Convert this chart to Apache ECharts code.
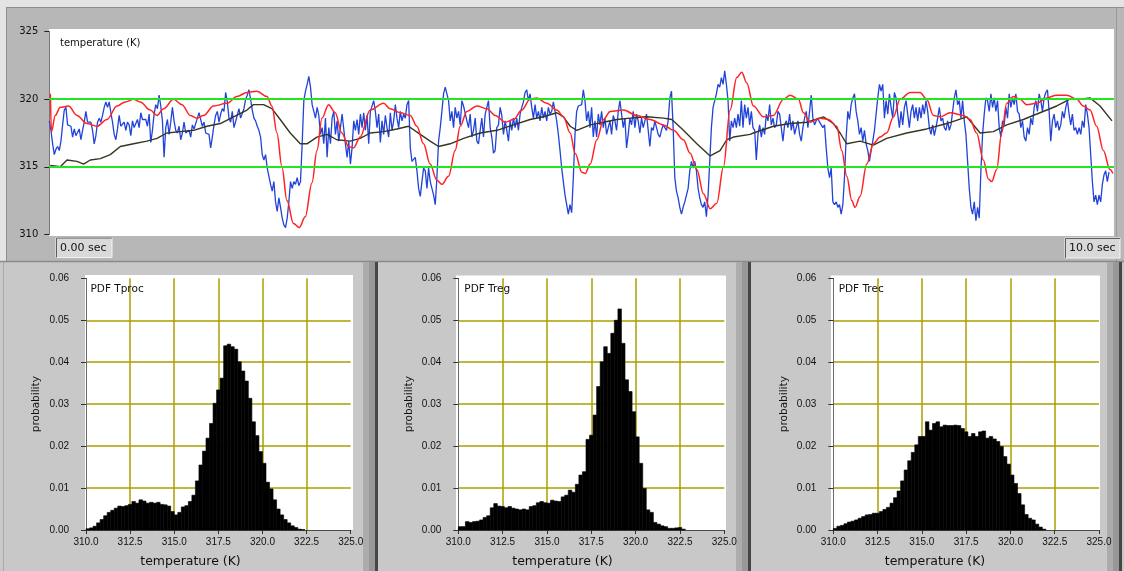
<!DOCTYPE html>
<html>
<head>
<meta charset="utf-8">
<script src="https://cdn.jsdelivr.net/npm/echarts@6/dist/echarts.min.js"></script>
<style>
  html, body { margin: 0; padding: 0; background: #c8c8c8; }
  #chart { width: 1124px; height: 571px; }
</style>
</head>
<body>
<div id="chart"></div>
<script>
// ---- time axis of the strip chart (seconds) ----
const timeStart = 0;
const timeEnd = 10;
const tempTicks = [310, 325, 5];          // min, max, step (K)
const limitLevels = [315, 320];           // green band limits (K)

// Tproc: sampled waveform, one value every tprocDt seconds
const tprocDt = 1 / 64;
const tproc = [
  318.4, 317.7, 316.7, 315.9, 316.3, 316.5, 316.2, 316.9, 318.1, 319.2,
  319.4, 318.1, 318.1, 318.0, 317.2, 317.8, 317.3, 317.4, 317.8, 317.0,
  317.7, 318.3, 319.1, 318.3, 318.4, 318.3, 317.7, 316.7, 317.3, 318.3,
  318.6, 318.3, 318.8, 319.4, 319.8, 319.4, 319.8, 319.0, 318.3, 317.4,
  317.0, 317.8, 318.8, 318.0, 318.1, 318.3, 317.7, 318.3, 318.1, 317.3,
  318.4, 317.9, 317.9, 318.5, 317.9, 319.0, 318.5, 318.6, 318.5, 318.0,
  318.9, 316.8, 317.7, 318.9, 319.6, 319.3, 320.3, 319.5, 318.4, 315.7,
  317.9, 318.5, 317.4, 318.3, 319.4, 318.4, 317.7, 317.5, 318.0, 317.0,
  317.5, 318.3, 317.5, 317.5, 317.7, 317.2, 318.1, 317.8, 317.8, 318.6,
  319.0, 318.5, 318.0, 318.3, 317.5, 317.4, 317.4, 316.4, 317.2, 318.1,
  318.8, 319.1, 318.3, 318.9, 319.3, 319.1, 320.5, 319.8, 318.6, 318.3,
  319.1, 317.9, 318.0, 318.8, 319.3, 318.6, 318.6, 319.3, 320.0, 320.3,
  320.7, 320.0, 319.2, 318.6,
  318.4, 318.0, 317.7, 317.2, 315.9, 315.5, 315.9, 314.9, 314.3, 313.7,
  313.2, 313.9, 312.4, 311.7, 312.7, 312.0, 311.2, 310.7, 310.5, 311.2,
  312.4, 313.9, 313.4, 313.9, 313.7, 314.2, 313.6, 313.9, 316.7, 319.9,
  320.6, 321.1, 321.7, 320.9, 319.6, 319.1, 318.6, 319.4, 318.8, 317.4,
  317.9, 316.7, 318.6, 315.7, 317.9, 316.7, 318.6, 319.1, 317.4, 318.4,
  316.9, 317.9, 318.9, 317.8, 316.7, 315.7, 316.9, 315.2, 316.4, 318.4,
  317.7, 318.5, 317.4, 318.9, 317.9, 319.0, 317.7, 318.8, 316.7, 319.1,
  319.1, 319.9, 319.1, 317.9, 318.9, 316.8, 318.4, 317.4, 318.8, 317.9,
  317.2, 319.0, 317.7, 318.4, 319.6, 318.6, 317.9, 319.1, 318.4, 318.9,
  318.6, 319.6, 319.9, 316.4, 315.4, 315.5, 315.7, 314.7, 313.4, 312.8,
  313.9, 314.9, 314.7, 313.4, 314.9, 313.9, 313.4, 312.9, 312.2, 314.2,
  316.9, 317.9, 319.1, 320.4, 320.9, 320.4, 319.9, 318.4, 319.1, 317.9,
  319.4, 318.6, 319.1, 318.1, 319.9, 319.5,
  319.4, 318.4, 317.9, 318.9, 317.2, 317.7, 318.6, 316.9, 316.7, 317.7,
  318.6, 317.2, 318.9, 319.4, 319.9, 317.9, 317.2, 316.0, 316.2, 317.9,
  318.1, 319.4, 318.8, 317.4, 318.4, 317.7, 316.9, 318.4, 317.7, 318.6,
  317.9, 318.6, 317.7, 318.9, 319.4, 319.8, 320.5, 320.7, 319.9, 320.4,
  319.4, 318.6, 319.6, 318.6, 319.1, 318.4, 319.4, 318.6, 319.1, 318.4,
  319.4, 318.9, 319.1, 319.8, 319.1, 318.4, 317.4, 316.2, 314.9, 313.9,
  312.9, 312.2, 311.5, 312.2, 311.6, 314.2, 317.4, 319.1, 319.5, 319.6,
  319.6, 320.7, 319.9, 318.4, 319.1, 317.9, 319.4, 317.2, 318.4, 317.2,
  318.9, 318.1, 319.1, 317.9, 318.6, 317.4, 317.9, 318.4, 317.4, 318.8,
  318.4, 317.7, 319.1, 319.9, 318.9, 317.9, 318.6, 316.4, 317.4, 318.6,
  318.1, 319.1, 317.9, 318.9, 318.4, 317.5, 318.6, 317.9, 318.4, 318.9,
  317.7, 316.5, 317.9, 317.7, 318.4, 317.9, 317.4, 317.2, 317.7, 318.1,
  317.9, 317.7, 318.4, 320.1, 320.6, 317.9,
  314.2, 313.2, 312.7, 312.0, 311.5, 312.0, 312.4, 312.9, 313.4, 314.7,
  315.4, 314.9, 315.4, 314.7, 313.4, 312.7, 312.2, 312.0, 312.4, 311.3,
  312.9, 315.4, 317.9, 319.4, 319.9, 320.4, 321.1, 320.9, 321.6, 321.1,
  322.1, 321.1, 319.9, 316.9, 318.4, 317.9, 318.6, 317.9, 318.9, 318.0,
  319.9, 317.9, 319.6, 318.6, 319.4, 318.1, 319.1, 317.9, 317.7, 315.5,
  317.4, 318.1, 317.2, 317.9, 317.4, 318.9, 318.4, 319.6, 318.1, 318.6,
  317.9, 318.1, 319.1, 318.9, 317.9, 316.9, 318.1, 318.4, 317.9, 318.9,
  317.7, 318.4, 317.4, 317.9, 318.4, 317.4, 316.9, 317.9, 318.6, 319.1,
  317.9, 319.1, 320.3, 318.6, 318.1, 318.4, 318.6, 318.3, 318.4, 317.9,
  318.1, 316.4, 314.9, 314.2, 314.9, 312.4, 312.2, 312.4, 312.0, 312.2,
  311.5, 312.2, 314.2, 317.2, 319.1, 318.5, 319.6, 320.1, 320.4, 319.1,
  318.4, 317.4, 317.9, 316.9, 317.7, 316.7, 316.2, 315.4, 316.2, 316.9,
  317.7, 318.9, 320.1, 321.1, 320.6, 321.1,
  318.6, 319.9, 318.9, 320.4, 319.4, 318.6, 320.5, 320.1, 318.9, 317.9,
  319.1, 318.1, 319.4, 319.9, 318.9, 317.9, 319.1, 319.6, 318.6, 319.4,
  318.4, 319.4, 318.6, 319.6, 318.9, 319.9, 319.1, 317.9, 317.4, 318.1,
  317.3, 317.9, 318.6, 319.4, 318.4, 318.6, 317.9, 317.7, 318.4, 317.7,
  318.1, 319.1, 320.1, 320.7, 319.6, 319.9, 318.6, 319.9, 318.4, 317.4,
  315.4, 313.4, 312.0, 311.5, 312.4, 311.0, 312.0, 311.2, 314.7, 317.4,
  318.9, 320.1, 319.9, 319.1, 320.4, 319.4, 320.1, 319.1, 319.9, 317.9,
  317.2, 318.4, 318.1, 319.4, 318.6, 320.4, 319.4, 320.1, 319.6, 320.4,
  319.1, 318.9, 317.9, 318.4, 317.2, 316.9, 317.9, 317.4, 318.6, 318.1,
  319.4, 319.9, 319.1, 320.4, 319.9, 319.1, 320.1, 320.5, 320.7, 319.1,
  316.9, 318.4, 318.9, 317.9, 318.4, 317.7, 318.1, 319.1, 318.6, 319.4,
  319.9, 318.9, 318.1, 318.9, 317.7, 317.9, 317.4, 317.9, 317.4, 318.4,
  317.9, 319.6, 318.9, 317.9, 315.9, 313.9, 312.4, 312.9, 312.2, 312.9,
  312.4, 313.7, 314.4, 314.7, 313.9, 314.6
];

// Treg: [time s, temperature K]
const treg = [
  [0.01,320.4],[0.02,317.6],[0.056,318.8],[0.103,319.4],[0.181,319.5],[0.26,318.8],
  [0.354,318.2],[0.448,318.0],[0.542,318.5],[0.636,319.5],[0.714,319.8],[0.792,320.0],
  [0.854,319.8],[0.948,319.2],[1.011,318.8],[1.073,319.3],[1.167,320.0],[1.246,319.6],
  [1.324,318.8],[1.387,318.6],[1.449,318.8],[1.543,319.5],[1.668,319.7],[1.762,320.2],
  [1.856,320.5],[1.95,320.6],[2.044,320.2],[2.091,319.5],[2.138,317.5],[2.185,315.0],
  [2.232,312.5],[2.294,310.8],[2.347,310.5],[2.404,311.3],[2.467,313.8],[2.514,316.2],
  [2.561,318.6],[2.623,319.6],[2.685,319.0],[2.748,317.5],[2.81,316.5],[2.857,316.4],
  [2.92,317.2],[3.014,319.2],[3.139,319.7],[3.2,319.3],[3.296,319.0],[3.39,318.8],
  [3.452,318.0],[3.515,316.7],[3.577,315.2],[3.64,314.0],[3.687,313.7],[3.75,314.3],
  [3.812,316.2],[3.859,318.0],[3.922,319.1],[4.016,319.5],[4.11,319.3],[4.188,318.8],
  [4.282,318.3],[4.36,318.5],[4.438,319.2],[4.516,320.0],[4.579,320.1],[4.673,319.7],
  [4.767,319.2],[4.829,318.7],[4.892,317.5],[4.939,316.0],[5.002,314.6],[5.033,314.5],
  [5.08,315.2],[5.143,317.0],[5.205,318.5],[5.268,319.1],[5.393,319.2],[5.518,318.8],
  [5.643,318.5],[5.768,318.1],[5.862,317.7],[5.956,317.0],[6.019,316.0],[6.082,314.8],
  [6.144,313.0],[6.207,311.9],[6.269,312.3],[6.332,315.0],[6.394,319.2],[6.457,321.6],
  [6.504,322.0],[6.551,321.2],[6.613,319.5],[6.707,318.7],[6.801,318.8],[6.895,320.0],
  [6.958,320.3],[7.036,320.0],[7.083,319.0],[7.146,318.3],[7.239,318.6],[7.318,318.5],
  [7.396,318.0],[7.443,316.2],[7.49,314.3],[7.537,312.5],[7.568,312.0],[7.615,312.8],
  [7.678,315.2],[7.74,316.7],[7.803,317.2],[7.865,317.5],[7.928,318.7],[7.991,320.0],
  [8.085,320.5],[8.178,320.5],[8.241,320.0],[8.304,318.8],[8.366,318.7],[8.46,319.0],
  [8.585,318.8],[8.648,318.5],[8.71,317.5],[8.773,315.5],[8.82,314.1],[8.851,313.9],
  [8.898,314.8],[8.945,317.5],[8.992,319.7],[9.055,320.2],[9.117,320.0],[9.18,319.6],
  [9.274,319.7],[9.368,320.1],[9.462,320.3],[9.556,320.3],[9.65,320.0],[9.712,319.5],
  [9.775,319.2],[9.837,318.0],[9.9,316.2],[9.962,314.8],[9.99,314.5]
];

// Trec: [time s, temperature K]
const trec = [
  [0.01,315.1],[0.103,315.0],[0.166,315.5],[0.26,315.4],[0.322,315.2],[0.385,315.5],
  [0.479,315.6],[0.573,315.9],[0.667,316.5],[0.792,316.7],[0.917,316.9],[1.011,317.1],
  [1.105,317.5],[1.23,317.6],[1.355,317.7],[1.481,318.0],[1.606,318.2],[1.731,318.7],
  [1.856,319.2],[1.918,319.6],[2.012,319.6],[2.091,319.3],[2.169,318.5],[2.263,317.5],
  [2.357,316.7],[2.42,316.7],[2.514,317.2],[2.608,317.4],[2.701,317.0],[2.826,316.9],
  [2.92,317.1],[3.014,317.5],[3.139,317.6],[3.265,317.8],[3.374,318.0],[3.484,317.4],
  [3.577,316.9],[3.656,316.5],[3.765,316.7],[3.891,317.1],[4.047,317.5],[4.204,317.7],
  [4.36,318.1],[4.516,318.5],[4.641,318.7],[4.767,319.0],[4.829,318.7],[4.892,318.0],
  [4.955,317.7],[5.08,318.1],[5.205,318.3],[5.33,318.5],[5.455,318.6],[5.612,318.7],
  [5.768,318.6],[5.847,318.5],[5.956,317.7],[6.082,316.7],[6.207,315.8],[6.3,316.2],
  [6.363,317.0],[6.426,317.2],[6.582,317.4],[6.613,317.5],[6.801,318.0],[6.958,318.2],
  [7.115,318.3],[7.271,318.7],[7.365,318.2],[7.427,317.5],[7.49,316.7],[7.615,316.9],
  [7.74,316.6],[7.865,317.1],[8.053,317.5],[8.241,317.8],[8.429,318.2],[8.617,318.7],
  [8.742,317.5],[8.867,317.6],[8.992,318.1],[9.148,318.5],[9.305,319.0],[9.462,319.5],
  [9.587,320.0],[9.681,320.0],[9.775,320.1],[9.869,319.5],[9.981,318.4]
];

// ---- probability density histograms: bins of binWidth K starting at binStart ----
const binStart = 310;
const binWidth = 0.2;
const pdfTicksX = [310, 325, 2.5];
const pdfTicksY = [0, 0.06, 0.01];

const pdfTproc = [
  0.0003, 0.0005, 0.0009, 0.0017, 0.0025, 0.0034, 0.0042, 0.0047, 0.0052, 0.0057,
  0.0056, 0.0058, 0.0061, 0.0068, 0.0064, 0.0072, 0.0069, 0.0064, 0.0066, 0.0064,
  0.0066, 0.0061, 0.0060, 0.0057, 0.0044, 0.0036, 0.0042, 0.0055, 0.0058, 0.0068,
  0.0083, 0.0117, 0.0155, 0.0188, 0.0219, 0.0254, 0.0302, 0.0334, 0.0362, 0.0439,
  0.0443, 0.0437, 0.0431, 0.0401, 0.0379, 0.0355, 0.0314, 0.0258, 0.0225, 0.0187,
  0.0159, 0.0114, 0.0098, 0.0072, 0.0050, 0.0036, 0.0025, 0.0017, 0.0010, 0.0006,
  0.0002, 0.0001
];
const pdfTreg = [
  0.0008, 0.0008, 0.0020, 0.0018, 0.0020, 0.0021, 0.0024, 0.0030, 0.0034, 0.0053,
  0.0063, 0.0057, 0.0056, 0.0053, 0.0056, 0.0052, 0.0050, 0.0048, 0.0050, 0.0048,
  0.0056, 0.0058, 0.0065, 0.0068, 0.0065, 0.0064, 0.0071, 0.0069, 0.0068, 0.0079,
  0.0083, 0.0095, 0.0090, 0.0109, 0.0131, 0.0139, 0.0216, 0.0226, 0.0274, 0.0342,
  0.0401, 0.0437, 0.0421, 0.0469, 0.0500, 0.0527, 0.0445, 0.0358, 0.0330, 0.0282,
  0.0222, 0.0159, 0.0099, 0.0048, 0.0042, 0.0018, 0.0014, 0.0010, 0.0008, 0.0004,
  0.0004, 0.0005, 0.0006, 0.0002
];
const pdfTrec = [
  0.0004, 0.0009, 0.0011, 0.0015, 0.0019, 0.0021, 0.0024, 0.0028, 0.0032, 0.0036,
  0.0037, 0.0040, 0.0040, 0.0044, 0.0049, 0.0054, 0.0064, 0.0077, 0.0093, 0.0117,
  0.0143, 0.0165, 0.0185, 0.0203, 0.0223, 0.0223, 0.0258, 0.0238, 0.0254, 0.0258,
  0.0246, 0.0250, 0.0249, 0.0249, 0.0250, 0.0249, 0.0242, 0.0234, 0.0223, 0.0230,
  0.0223, 0.0234, 0.0236, 0.0219, 0.0223, 0.0217, 0.0211, 0.0199, 0.0175, 0.0157,
  0.0131, 0.0111, 0.0087, 0.0060, 0.0037, 0.0028, 0.0024, 0.0014, 0.0007, 0.0002
];
const pdfTitles = ['PDF Tproc', 'PDF Treg', 'PDF Trec'];

// ---------------------------------------------------------------------------
const FONT = '"DejaVu Sans", Tahoma, sans-serif';
const TICKFONT = '"Liberation Sans", Arial, sans-serif';
const OLIVE = '#a99f00';

const chart = echarts.init(document.getElementById('chart'), null, { renderer: 'canvas' });

const tprocPoints = tproc.map((v, i) => [timeStart + i * tprocDt, v]);
const toBins = pdf => pdf.map((p, i) => [binStart + i * binWidth, binStart + (i + 1) * binWidth, p]);

const histGrids = [
  { left: 86, top: 278.3, width: 264.7, height: 251.7 },
  { left: 458.3, top: 278.3, width: 266, height: 251.7 },
  { left: 833.3, top: 278.3, width: 265.7, height: 251.7 }
];
// centre of each panel's "temperature (K)" caption
const captionCenters = [190.5, 562.5, 935];

function histBar(params, api) {
  const a = api.coord([api.value(0), api.value(2)]);
  const b = api.coord([api.value(1), 0]);
  return {
    type: 'rect',
    shape: { x: a[0], y: a[1], width: b[0] - a[0], height: b[1] - a[1] },
    style: { fill: '#000', stroke: '#000', lineWidth: 0.6 }
  };
}

// panel chrome: frames, plot backgrounds, dividers
const chrome = [
  { type: 'rect', shape: { x: 0, y: 0, width: 1124, height: 262 }, style: { fill: '#e4e4e4' }, z: -20 },
  { type: 'rect', shape: { x: 6, y: 7, width: 1118, height: 255 }, style: { fill: '#b7b7b7' }, z: -19 },
  { type: 'line', shape: { x1: 6, y1: 7.5, x2: 1124, y2: 7.5 }, style: { stroke: '#8e8e8e', lineWidth: 1 }, z: -18 },
  { type: 'line', shape: { x1: 6.5, y1: 7, x2: 6.5, y2: 262 }, style: { stroke: '#8e8e8e', lineWidth: 1 }, z: -18 },
  { type: 'line', shape: { x1: 1116.5, y1: 7, x2: 1116.5, y2: 262 }, style: { stroke: '#9a9a9a', lineWidth: 1 }, z: -18 },
  { type: 'line', shape: { x1: 0, y1: 261.5, x2: 1124, y2: 261.5 }, style: { stroke: '#8a8a8a', lineWidth: 1.5 }, z: -18 },
  { type: 'rect', shape: { x: 49, y: 29, width: 1065, height: 207 }, style: { fill: '#ffffff' }, z: -17 },
  { type: 'rect', shape: { x: 85, y: 275, width: 268, height: 255 }, style: { fill: '#ffffff' }, z: -17 },
  { type: 'rect', shape: { x: 456, y: 275.5, width: 270, height: 254.5 }, style: { fill: '#ffffff' }, z: -17 },
  { type: 'rect', shape: { x: 831, y: 275.5, width: 269, height: 254.5 }, style: { fill: '#ffffff' }, z: -17 },
  { type: 'line', shape: { x1: 3.5, y1: 262, x2: 3.5, y2: 571 }, style: { stroke: '#a9a9a9', lineWidth: 1 }, z: -18 }
];
[363, 736, 1107].forEach(x0 => {
  chrome.push(
    { type: 'rect', shape: { x: x0, y: 262, width: 6, height: 309 }, style: { fill: '#acacac' }, z: -18 },
    { type: 'rect', shape: { x: x0 + 6, y: 262, width: 6, height: 309 }, style: { fill: '#989898' }, z: -18 },
    { type: 'rect', shape: { x: x0 + 12, y: 262, width: 3, height: 309 }, style: { fill: '#464646' }, z: -18 }
  );
});

function label(text, x, y, size, align) {
  return {
    type: 'text', z: 20,
    style: { text: text, x: x, y: y, font: size + 'px ' + FONT, fill: '#111',
             textAlign: align || 'left', align: align || 'left',
             textVerticalAlign: 'middle', verticalAlign: 'middle' }
  };
}
function timeBox(text, x, y, w, h) {
  return [
    { type: 'rect', z: 19, shape: { x: x, y: y, width: w, height: h },
      style: { fill: '#d9d9d9', stroke: '#f2f2f2', lineWidth: 1 } },
    { type: 'polyline', z: 19, shape: { points: [[x + 0.5, y + h], [x + 0.5, y + 0.5], [x + w, y + 0.5]] },
      style: { stroke: '#5e5e5e', lineWidth: 1, fill: null } },
    label(text, x + 4, y + h / 2 + 0.5, 11)
  ];
}

const texts = [
  label('temperature (K)', 60, 43, 10),
  label(pdfTitles[0], 90.5, 289, 10.5),
  label(pdfTitles[1], 464.3, 289, 10.5),
  label(pdfTitles[2], 838.7, 289, 10.5)
].concat(
  captionCenters.map(cx => label('temperature (K)', cx, 562, 12.5, 'center')),
  timeBox(timeStart.toFixed(2) + ' sec', 56, 237.5, 56, 20),
  timeBox(timeEnd.toFixed(1) + ' sec', 1065, 238, 55, 20)
);

const option = {
  animation: false,
  backgroundColor: '#c8c8c8',
  graphic: { elements: chrome.concat(texts) },
  grid: [{ left: 49.3, top: 31.7, width: 1064.7, height: 202.6 }].concat(histGrids),
  xAxis: [
    { gridIndex: 0, type: 'value', min: timeStart, max: timeEnd, show: false }
  ].concat(histGrids.map((g, i) => ({
    gridIndex: i + 1, type: 'value', min: pdfTicksX[0], max: pdfTicksX[1], interval: pdfTicksX[2],
    axisLine: { lineStyle: { color: '#4a4a4a', width: 1 } },
    axisTick: { show: true, length: 4, lineStyle: { color: '#333' } },
    axisLabel: { formatter: v => v.toFixed(1), fontFamily: TICKFONT, fontSize: 10, color: '#111', margin: 7 },
    splitLine: { show: true, showMinLine: false, showMaxLine: false, lineStyle: { color: OLIVE, width: 1.5 } },
    z: 5
  }))),
  yAxis: [
    {
      gridIndex: 0, type: 'value', min: tempTicks[0], max: tempTicks[1], interval: tempTicks[2],
      axisLine: { show: true, lineStyle: { color: '#777', width: 1 } },
      axisTick: { show: true, length: 5, lineStyle: { color: '#222' } },
      axisLabel: { fontFamily: FONT, fontSize: 10, color: '#111', margin: 11 },
      splitLine: { show: false }
    }
  ].concat(histGrids.map((g, i) => ({
    gridIndex: i + 1, type: 'value', min: pdfTicksY[0], max: pdfTicksY[1], interval: pdfTicksY[2],
    axisLine: { show: true, lineStyle: { color: '#6a6a6a', width: 1 } },
    axisTick: { show: true, length: 5, lineStyle: { color: '#333' } },
    axisLabel: { formatter: v => v.toFixed(2), fontFamily: TICKFONT, fontSize: 10, color: '#111', margin: 17 },
    splitLine: { show: true, showMinLine: false, showMaxLine: false, lineStyle: { color: OLIVE, width: 1.5 } },
    name: 'probability', nameLocation: 'middle', nameGap: 44,
    nameTextStyle: { fontFamily: FONT, fontSize: 10.5, color: '#111' },
    z: 5
  }))),
  series: [
    {
      name: 'limits', type: 'line', xAxisIndex: 0, yAxisIndex: 0, data: [], z: 1, silent: true,
      markLine: {
        silent: true, symbol: ['none', 'none'], label: { show: false },
        lineStyle: { color: '#22e622', width: 1.8, type: 'solid' },
        data: limitLevels.map(v => ({ yAxis: v }))
      }
    },
    {
      name: 'Tproc', type: 'line', xAxisIndex: 0, yAxisIndex: 0, data: tprocPoints,
      showSymbol: false, symbol: 'none', z: 2,
      lineStyle: { color: '#2243d8', width: 1.3 }
    },
    {
      name: 'Trec', type: 'line', xAxisIndex: 0, yAxisIndex: 0, data: trec,
      showSymbol: false, symbol: 'none', z: 3,
      lineStyle: { color: '#37361f', width: 1.4 }
    },
    {
      name: 'Treg', type: 'line', xAxisIndex: 0, yAxisIndex: 0, data: treg,
      showSymbol: false, symbol: 'none', z: 4, smooth: 0.35, smoothMonotone: 'x',
      lineStyle: { color: '#ff2323', width: 1.5 }
    }
  ].concat([pdfTproc, pdfTreg, pdfTrec].map((pdf, i) => ({
    name: pdfTitles[i], type: 'custom', xAxisIndex: i + 1, yAxisIndex: i + 1,
    renderItem: histBar, data: toBins(pdf), encode: { x: [0, 1], y: 2 }, z: 6
  })))
};

chart.setOption(option);
</script>
</body>
</html>
